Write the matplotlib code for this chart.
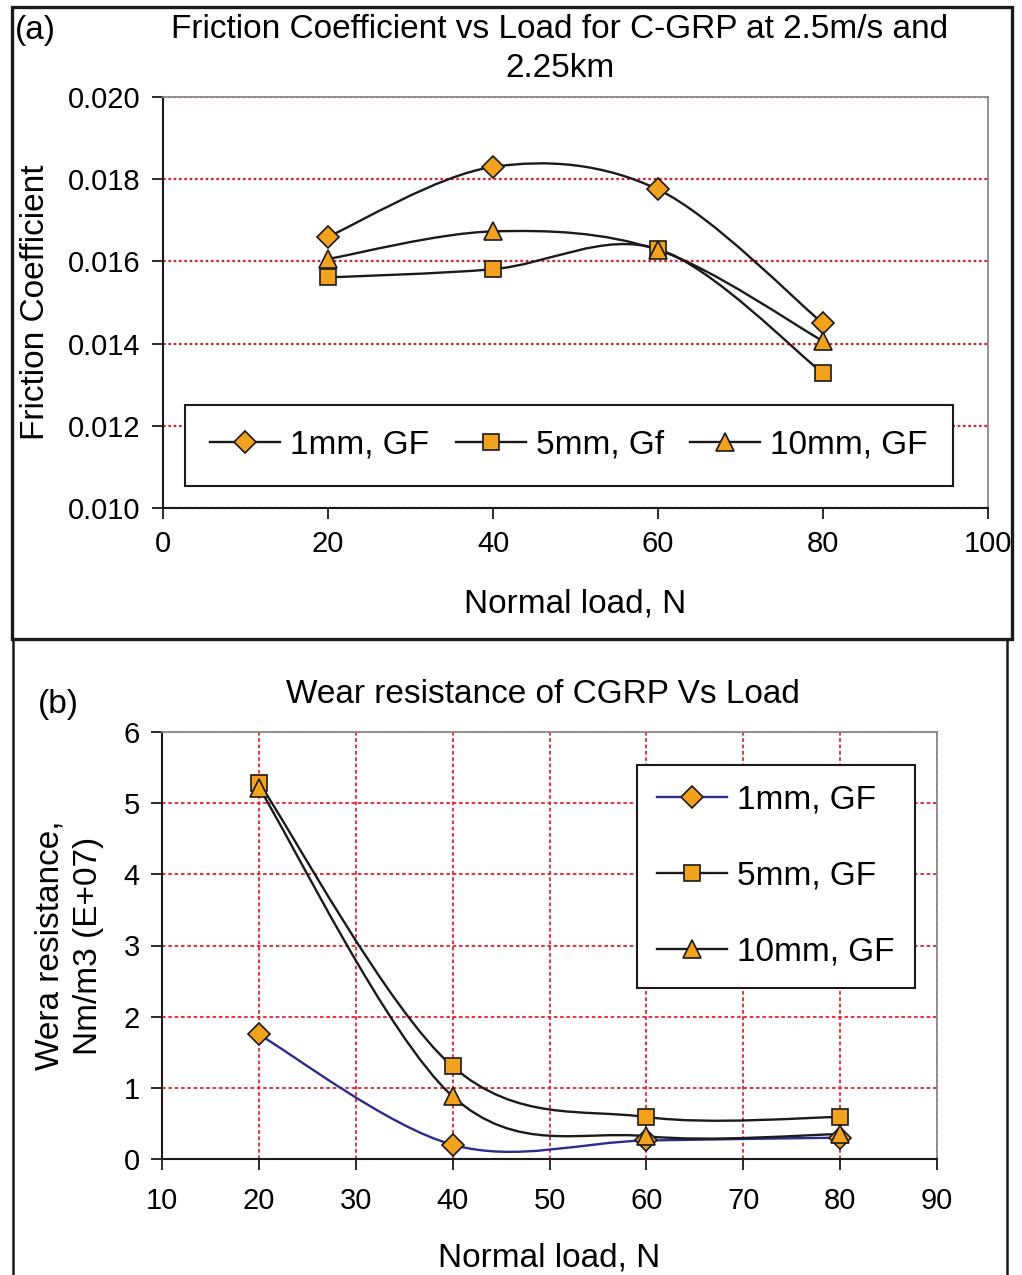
import matplotlib
matplotlib.use("Agg")
import matplotlib.pyplot as plt
import numpy as np
from matplotlib.path import Path
from matplotlib.patches import PathPatch, Rectangle
from matplotlib.lines import Line2D

plt.rcParams['font.family'] = ['Liberation Sans', 'DejaVu Sans']

# normal load, N
loads = [20, 40, 60, 80]

# (a) friction coefficient
fric_1mm = [0.0166, 0.0183, 0.01775, 0.01449]
fric_5mm = [0.01561, 0.01581, 0.0163, 0.01328]
fric_10mm = [0.01606, 0.01673, 0.01628, 0.01406]
fric_labels = ['1mm, GF', '5mm, Gf', '10mm, GF']

# (b) wear resistance, Nm/m3 (E+07)
wear_1mm = [1.75, 0.20, 0.26, 0.30]
wear_5mm = [5.29, 1.30, 0.59, 0.59]
wear_10mm = [5.22, 0.88, 0.32, 0.35]
wear_labels = ['1mm, GF', '5mm, GF', '10mm, GF']

ORANGE = '#F3A21D'
BLACK = '#1a1a1a'
NAVY = '#2c2c8c'
GRID_RED = '#e8202e'
SPINE_GREY = '#8a8a8a'
markers = ['D', 's', '^']
msizes = [11.5, 11.5, 12.5]


def smooth_path(xs, ys):
    # bezier smoothing through the points (same idea as spreadsheet "smoothed line")
    pts = np.column_stack([xs, ys]).astype(float)
    n = len(pts)
    verts = [pts[0]]
    codes = [Path.MOVETO]
    for i in range(n - 1):
        p0 = pts[i - 1] if i > 0 else pts[i]
        p1 = pts[i]
        p2 = pts[i + 1]
        p3 = pts[i + 2] if i + 2 < n else pts[i + 1]
        verts += [p1 + (p2 - p0) / 6, p2 - (p3 - p1) / 6, p2]
        codes += [Path.CURVE4] * 3
    return Path(verts, codes)


def draw_series(ax, ys, color, marker, ms):
    ax.add_patch(PathPatch(smooth_path(loads, ys), fill=False, edgecolor=color,
                           lw=1.7, zorder=3, capstyle='round'))
    ax.plot(loads, ys, linestyle='none', marker=marker, ms=ms, mfc=ORANGE,
            mec=BLACK, mew=1.2, zorder=4, clip_on=False)


def style_axes(ax):
    for side in ['left', 'bottom']:
        ax.spines[side].set_color(BLACK)
        ax.spines[side].set_linewidth(1.5)
    for side in ['top', 'right']:
        ax.spines[side].set_color(SPINE_GREY)
        ax.spines[side].set_linewidth(1.3)
    ax.tick_params(axis='both', direction='out', length=8, width=1.3,
                   color=BLACK, labelsize=21, pad=8)
    ax.set_axisbelow(True)


def legend_handles(colors, labels):
    return [Line2D([0], [0], color=c, lw=1.7, marker=m, ms=ms, mfc=ORANGE,
                   mec=BLACK, mew=1.2, label=lab)
            for c, m, ms, lab in zip(colors, markers, msizes, labels)]


fig = plt.figure(figsize=(10.22, 12.75), dpi=100)

# ---- (a) friction coefficient vs load ----
axa = fig.add_axes([163 / 1022, 1 - 508 / 1275, 825 / 1022, 411 / 1275])
style_axes(axa)
axa.set_xlim(0, 100)
axa.set_ylim(0.010, 0.020)
axa.set_xticks(np.arange(0, 101, 20))
axa.set_yticks(np.arange(0.010, 0.0201, 0.002))
axa.yaxis.set_major_formatter(matplotlib.ticker.FormatStrFormatter('%.3f'))
axa.grid(axis='y', color=GRID_RED, linestyle=(0, (1.2, 1.2)), lw=1.6)
for ys, m, ms in zip([fric_1mm, fric_5mm, fric_10mm], markers, msizes):
    draw_series(axa, ys, BLACK, m, ms)
axa.set_xlabel('Normal load, N', fontsize=24, labelpad=22)
axa.set_ylabel('Friction Coefficient', fontsize=24, labelpad=12)
leg_a = fig.legend(handles=legend_handles([BLACK] * 3, fric_labels), loc='center',
                   bbox_to_anchor=(569 / 1022, 1 - 445 / 1275), ncol=3, fontsize=24,
                   frameon=True, fancybox=False, edgecolor=BLACK, framealpha=1,
                   handlelength=2.1, handletextpad=0.3, columnspacing=0.8,
                   borderpad=0.75, borderaxespad=0)
leg_a.get_frame().set_linewidth(1.5)
fig.text(560 / 1022, 1 - 49 / 1275,
         'Friction Coefficient vs Load for C-GRP at 2.5m/s and\n2.25km',
         ha='center', va='center', fontsize=24, linespacing=1.35)
fig.text(15 / 1022, 1 - 30 / 1275, '(a)', ha='left', va='center', fontsize=24)

# ---- (b) wear resistance vs load ----
axb = fig.add_axes([162 / 1022, 1 - 1159 / 1275, 775 / 1022, 427 / 1275])
style_axes(axb)
axb.set_xlim(10, 90)
axb.set_ylim(0, 6)
axb.set_xticks(np.arange(10, 91, 10))
axb.set_yticks(np.arange(0, 7, 1))
axb.tick_params(axis='x', pad=12)
axb.grid(True, color=GRID_RED, linestyle=(0, (2, 1.5)), lw=1.3)
for ys, c, m, ms in zip([wear_1mm, wear_5mm, wear_10mm], [NAVY, BLACK, BLACK], markers, msizes):
    draw_series(axb, ys, c, m, ms)
axb.set_xlabel('Normal load, N', fontsize=24, labelpad=20)
axb.set_ylabel('Wera resistance,\nNm/m3 (E+07)', fontsize=24, labelpad=14, linespacing=1.3)
leg_b = fig.legend(handles=legend_handles([NAVY, BLACK, BLACK], wear_labels), loc='center',
                   bbox_to_anchor=(776 / 1022, 1 - 876 / 1275), ncol=1, fontsize=24,
                   frameon=True, fancybox=False, edgecolor=BLACK, framealpha=1,
                   handlelength=2.1, handletextpad=0.3, labelspacing=1.35,
                   borderpad=0.6, borderaxespad=0)
leg_b.get_frame().set_linewidth(1.5)
fig.text(543 / 1022, 1 - 695 / 1275, 'Wear resistance of CGRP Vs Load',
         ha='center', va='center', fontsize=24)
fig.text(38 / 1022, 1 - 705 / 1275, '(b)', ha='left', va='center', fontsize=24)

# panel frames
fig.add_artist(Rectangle((12 / 1022, 1 - 639 / 1275), 1000 / 1022, 632 / 1275,
                         transform=fig.transFigure, fill=False, lw=2.4, edgecolor=BLACK))
fig.add_artist(Rectangle((13 / 1022, -0.02), 994 / 1022, 0.02 + 1 - 639 / 1275,
                         transform=fig.transFigure, fill=False, lw=1.8, edgecolor=BLACK))

fig.savefig('out.png', dpi=100)
